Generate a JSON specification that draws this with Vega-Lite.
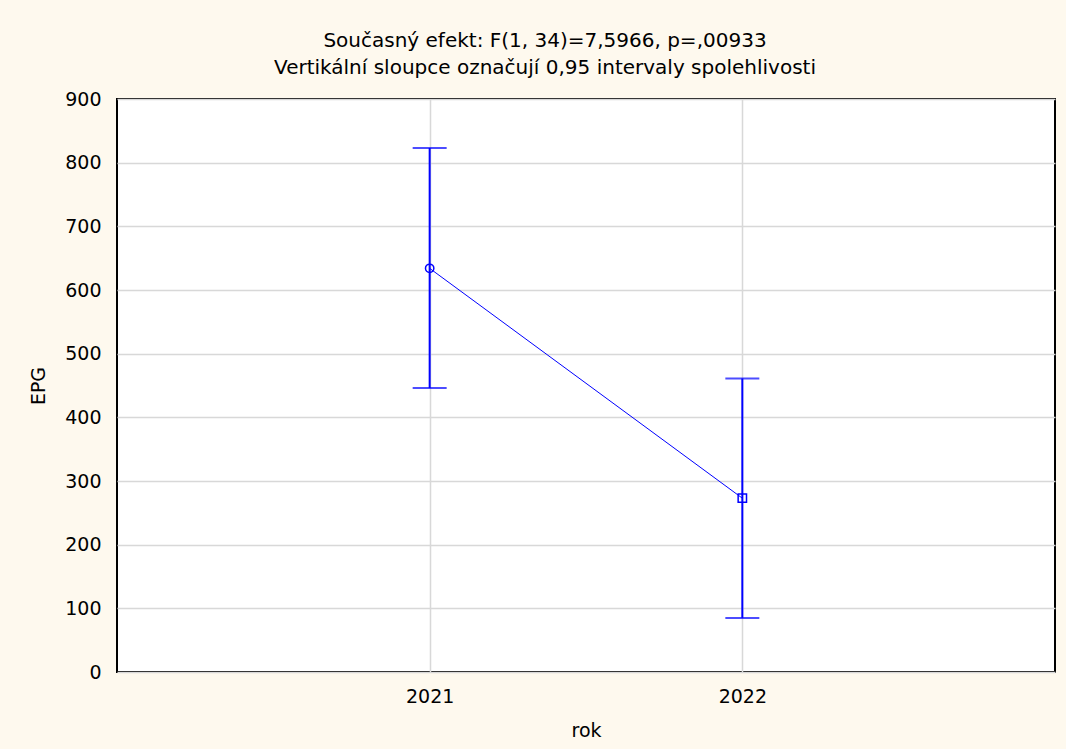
{
  "$schema": "https://vega.github.io/schema/vega-lite/v6.json",
  "autosize": {"type": "none"},
  "width": 938,
  "height": 573,
  "padding": {"left": 117, "top": 99, "right": 11, "bottom": 77},
  "background": "#fef9ee",
  "title": {
    "text": ["Současný efekt: F(1, 34)=7,5966, p=,00933", "Vertikální sloupce označují 0,95 intervaly spolehlivosti"],
    "font": "DejaVu Sans",
    "fontSize": 20,
    "fontWeight": "normal",
    "color": "#000000",
    "anchor": "middle",
    "dx": -41,
    "offset": 12,
    "lineHeight": 27
  },
  "config": {
    "view": {"fill": "#ffffff", "stroke": "#000000", "strokeWidth": 2},
    "axis": {
      "labelFont": "DejaVu Sans",
      "labelFontSize": 19,
      "labelColor": "#000000",
      "titleFont": "DejaVu Sans",
      "titleFontSize": 19,
      "titleFontWeight": "normal",
      "titleColor": "#000000",
      "domain": false,
      "ticks": false,
      "gridColor": "#d8d8d8",
      "gridWidth": 1.5
    }
  },
  "data": {
    "values": [
      {"rok": "2021", "EPG": 634, "lo": 446, "hi": 823},
      {"rok": "2022", "EPG": 273, "lo": 85, "hi": 461}
    ]
  },
  "encoding": {
    "x": {
      "field": "rok",
      "type": "ordinal",
      "scale": {"type": "point", "padding": 1},
      "axis": {
        "title": "rok",
        "labelAngle": 0,
        "labelPadding": 15,
        "grid": true,
        "titleX": 469,
        "titleY": 58,
        "titleBaseline": "middle"
      }
    }
  },
  "layer": [
    {
      "mark": {"type": "line", "color": "#0000ff", "strokeWidth": 1},
      "encoding": {
        "y": {
          "field": "EPG",
          "type": "quantitative",
          "scale": {"domain": [0, 900], "nice": false, "zero": true},
          "axis": {
            "title": "EPG",
            "values": [0, 100, 200, 300, 400, 500, 600, 700, 800, 900],
            "labelPadding": 16,
            "grid": true,
            "titleX": -79,
            "titleY": 286.5,
            "titleAngle": -90,
            "titleBaseline": "middle",
            "titleAlign": "center"
          }
        }
      }
    },
    {
      "mark": {"type": "rule", "color": "#0000ff", "strokeWidth": 2},
      "encoding": {
        "y": {"field": "lo", "type": "quantitative"},
        "y2": {"field": "hi"}
      }
    },
    {
      "mark": {"type": "tick", "color": "#0000ff", "thickness": 2, "size": 34},
      "encoding": {
        "y": {"field": "hi", "type": "quantitative"}
      }
    },
    {
      "mark": {"type": "tick", "color": "#0000ff", "thickness": 2, "size": 34},
      "encoding": {
        "y": {"field": "lo", "type": "quantitative"}
      }
    },
    {
      "mark": {"type": "point", "filled": false, "color": "#0000ff", "strokeWidth": 1.5, "size": 70, "opacity": 1},
      "encoding": {
        "y": {"field": "EPG", "type": "quantitative"},
        "shape": {"field": "rok", "type": "nominal", "scale": {"range": ["circle", "square"]}, "legend": null}
      }
    }
  ]
}
